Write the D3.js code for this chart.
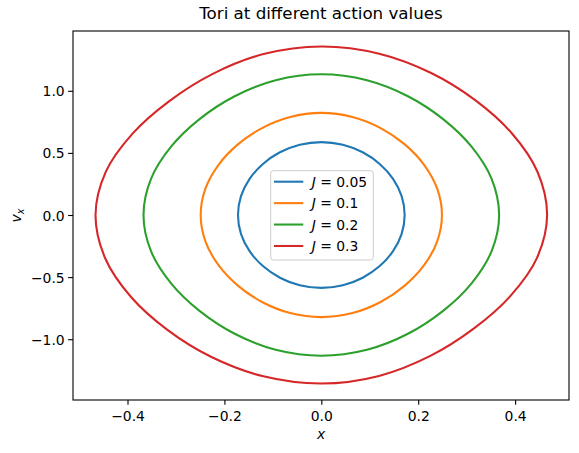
<!DOCTYPE html>
<html>
<head>
<meta charset="utf-8">
<script src="https://cdn.jsdelivr.net/npm/d3@7"></script>
<style>
  html, body { margin: 0; padding: 0; background: #fff; }
  svg text { font-family: "DejaVu Sans", sans-serif; fill: #000; }
</style>
</head>
<body>
<svg id="chart" width="579" height="453"></svg>
<script>
// ---- data ----
const actionValues = [0.05, 0.1, 0.2, 0.3];
const seriesColors = ["#1f77b4", "#ff7f0e", "#2ca02c", "#d62728"];
const xTicks = [-0.4, -0.2, 0.0, 0.2, 0.4];
const yTicks = [-1.0, -0.5, 0.0, 0.5, 1.0];

// (x, v_x) points around each torus, counter-clockwise from the right-most point
const torusJ005 = [
  [0.172,0],[0.1658,0.1516],[0.1480,0.2915],[0.1205,0.4113],[0.0854,0.5049],[0.0444,0.5657],[0,0.587],
  [-0.0444,0.5657],[-0.0854,0.5049],[-0.1205,0.4113],[-0.1480,0.2915],[-0.1658,0.1516],[-0.172,0],
  [-0.1658,-0.1516],[-0.1480,-0.2915],[-0.1205,-0.4113],[-0.0854,-0.5049],[-0.0444,-0.5657],[0,-0.587],
  [0.0444,-0.5657],[0.0854,-0.5049],[0.1205,-0.4113],[0.1480,-0.2915],[0.1658,-0.1516]
];
const torusJ01 = [
  [0.249,0],[0.2392,0.2116],[0.2121,0.4042],[0.1722,0.5685],[0.1224,0.7001],[0.0641,0.7896],[0,0.822],
  [-0.0641,0.7896],[-0.1224,0.7001],[-0.1722,0.5685],[-0.2121,0.4042],[-0.2392,0.2116],[-0.249,0],
  [-0.2392,-0.2116],[-0.2121,-0.4042],[-0.1722,-0.5685],[-0.1224,-0.7001],[-0.0641,-0.7896],[0,-0.822],
  [0.0641,-0.7896],[0.1224,-0.7001],[0.1722,-0.5685],[0.2121,-0.4042],[0.2392,-0.2116]
];
const torusJ02 = [
  [0.367,0],[0.3515,0.2908],[0.3097,0.5521],[0.2507,0.7739],[0.1788,0.9562],[0.0942,1.0851],[0,1.133],
  [-0.0942,1.0851],[-0.1788,0.9562],[-0.2507,0.7739],[-0.3097,0.5521],[-0.3515,0.2908],[-0.367,0],
  [-0.3515,-0.2908],[-0.3097,-0.5521],[-0.2507,-0.7739],[-0.1788,-0.9562],[-0.0942,-1.0851],[0,-1.133],
  [0.0942,-1.0851],[0.1788,-0.9562],[0.2507,-0.7739],[0.3097,-0.5521],[0.3515,-0.2908]
];
const torusJ03 = [
  [0.466,0],[0.4461,0.3481],[0.3927,0.6602],[0.3176,0.9250],[0.2267,1.1435],[0.1195,1.2990],[0,1.357],
  [-0.1192,1.2957],[-0.2250,1.1347],[-0.3144,0.9154],[-0.3896,0.6551],[-0.4449,0.3472],[-0.466,0],
  [-0.4461,-0.3481],[-0.3927,-0.6602],[-0.3176,-0.9250],[-0.2267,-1.1435],[-0.1195,-1.2990],[0,-1.357],
  [0.1192,-1.2957],[0.2250,-1.1347],[0.3144,-0.9154],[0.3896,-0.6551],[0.4449,-0.3472]
];
const tori = [torusJ005, torusJ01, torusJ02, torusJ03];

// ---- layout ----
const svg = d3.select("#chart");
const L = 73, R = 569, T = 31, B = 400;
const x = d3.scaleLinear().domain([-0.5125, 0.5112]).range([L, R]);
const y = d3.scaleLinear().domain([-1.4895, 1.4815]).range([B, T]);
const fmt = d => (d < 0 ? "\u2212" : "") + Math.abs(d).toFixed(1);

// curves
const line = d3.line().x(d => x(d[0])).y(d => y(d[1])).curve(d3.curveCatmullRomClosed.alpha(0.5));
const plot = svg.append("g");
tori.forEach((pts, i) => {
  plot.append("path").attr("d", line(pts)).attr("fill", "none")
    .attr("stroke", seriesColors[i]).attr("stroke-width", 2.08)
    .attr("stroke-linejoin", "round");
});

// axes
const xAxis = d3.axisBottom(x).tickValues(xTicks).tickFormat(fmt).tickSize(4.86).tickPadding(3.5);
const yAxis = d3.axisLeft(y).tickValues(yTicks).tickFormat(fmt).tickSize(4.86).tickPadding(3.5);
const gx = svg.append("g").attr("transform", `translate(0,${B})`).call(xAxis);
const gy = svg.append("g").attr("transform", `translate(${L},0)`).call(yAxis);
[gx, gy].forEach(g => {
  g.select(".domain").remove();
  g.selectAll(".tick line").attr("stroke", "#000").attr("stroke-width", 1.1);
  g.selectAll(".tick text").attr("font-size", "13.9px").attr("fill", "#000")
    .style("font-family", "DejaVu Sans");
});
gx.selectAll(".tick text").attr("dy", null).attr("y", 20.5);
gy.selectAll(".tick text").attr("dy", "0.36em");

// frame
svg.append("rect").attr("x", L).attr("y", T).attr("width", R - L).attr("height", B - T)
  .attr("fill", "none").attr("stroke", "#000").attr("stroke-width", 1.1);

// title & labels
svg.append("text").attr("x", (L + R) / 2).attr("y", 19).attr("text-anchor", "middle")
  .attr("font-size", "16.7px").text("Tori at different action values");
svg.append("text").attr("x", (L + R) / 2).attr("y", 439).attr("text-anchor", "middle")
  .attr("font-size", "13.9px").attr("font-style", "italic").text("x");
const yl = svg.append("text").attr("transform", `translate(21,${(T + B) / 2}) rotate(-90)`)
  .attr("text-anchor", "middle").attr("font-size", "13.9px");
yl.append("tspan").attr("font-style", "italic").text("v");
yl.append("tspan").attr("font-style", "italic").attr("font-size", "9.7px").attr("dy", "2.5").text("x");

// legend
const lg = svg.append("g");
lg.append("rect").attr("x", 270.7).attr("y", 170.7).attr("width", 102.6).attr("height", 89.3)
  .attr("rx", 2.8).attr("fill", "#fff").attr("fill-opacity", 0.8)
  .attr("stroke", "#cccccc").attr("stroke-width", 1);
actionValues.forEach((j, i) => {
  const yy = 181.7 + i * 21.43;
  lg.append("line").attr("x1", 274).attr("x2", 303.3).attr("y1", yy).attr("y2", yy)
    .attr("stroke", seriesColors[i]).attr("stroke-width", 2.08);
  const t = lg.append("text").attr("x", 311.7).attr("y", yy + 5).attr("font-size", "13.9px");
  t.append("tspan").attr("font-style", "italic").text("J");
  t.append("tspan").text(" = " + j);
});
</script>
</body>
</html>
